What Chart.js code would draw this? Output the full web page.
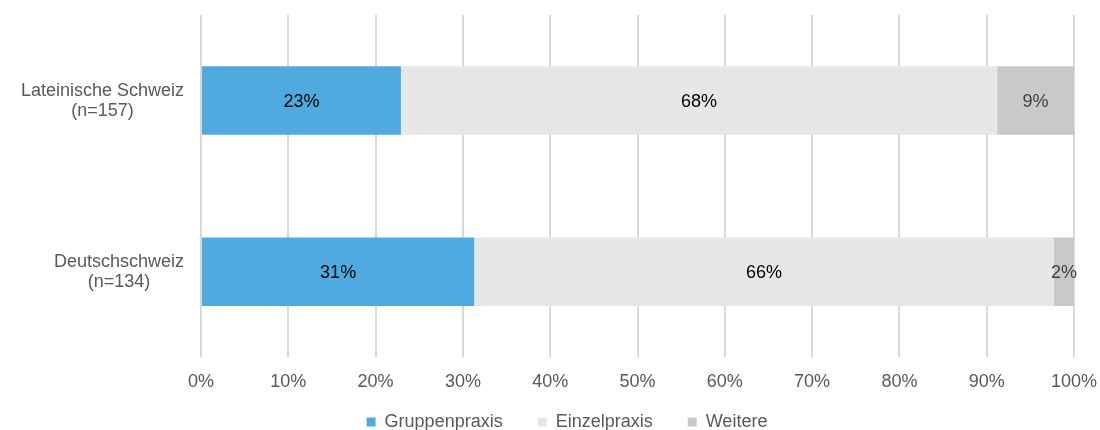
<!DOCTYPE html>
<html>
<head>
<meta charset="utf-8">
<script src="https://cdn.jsdelivr.net/npm/chart.js@4"></script>
<style>
    body { margin: 0; background: #fff; overflow: hidden; }
    .wrap { width: 1100px; height: 470px; }
</style>
</head>
<body>
<div class="wrap"><canvas id="praxis_chart"></canvas></div>
<script>
const regions = [["Lateinische Schweiz", "(n=157)"], ["Deutschschweiz", "(n=134)"]];
const gruppenpraxis = [22.9, 31.3];
const einzelpraxis = [68.3, 66.4];
const weitere = [8.8, 2.3];
const seriesNames = ["Gruppenpraxis", "Einzelpraxis", "Weitere"];

const FONT = "'Liberation Sans', Arial, sans-serif";
const ctx = document.querySelector("#praxis_chart").getContext("2d");

// draw percent labels in bar centers
const barLabels = {
    id: "barLabels",
    afterDatasetsDraw(chart) {
        const c = chart.ctx;
        c.save();
        c.font = "18px " + FONT;
        c.textAlign = "center";
        c.textBaseline = "middle";
        chart.data.datasets.forEach((ds, i) => {
            const meta = chart.getDatasetMeta(i);
            meta.data.forEach((bar, j) => {
                const p = bar.getCenterPoint();
                c.fillStyle = i === 2 ? "#404040" : "#000";
                c.fillText(Math.round(ds.data[j]) + "%", p.x, p.y + 1);
            });
        });
        c.restore();
    }
};

// category labels: block right aligned to the axis, lines centered inside the block
const categoryLabels = {
    id: "categoryLabels",
    afterDraw(chart) {
        const c = chart.ctx;
        const yScale = chart.scales.y;
        const right = chart.chartArea.left - 17;
        c.save();
        c.font = "18px " + FONT;
        c.fillStyle = "#595959";
        c.textAlign = "center";
        c.textBaseline = "middle";
        chart.data.labels.forEach((lines, i) => {
            const w = Math.max(...lines.map((t) => c.measureText(t).width));
            const cx = right - w / 2;
            const cy = yScale.getPixelForValue(i);
            lines.forEach((t, k) => {
                c.fillText(t, cx, cy + (k - (lines.length - 1) / 2) * 20);
            });
        });
        c.restore();
    }
};

// nudge the legend: up and to the right (wide item spacing eats height)
const legendShift = {
    id: "legendShift",
    afterLayout(chart) {
        const lg = chart.legend;
        lg.left += 30;
        lg.right += 30;
        lg.top -= 29;
        lg.bottom -= 29;
    }
};

const chart = new Chart(ctx, {
    type: "bar",
    data: {
        labels: regions,
        datasets: [
            { label: seriesNames[0], data: gruppenpraxis, backgroundColor: "#4EAADF" },
            { label: seriesNames[1], data: einzelpraxis, backgroundColor: "#E7E7E7" },
            { label: seriesNames[2], data: weitere, backgroundColor: "#C9C9C9" },
        ],
    },
    options: {
        indexAxis: "y",
        responsive: true,
        maintainAspectRatio: false,
        animation: false,
        categoryPercentage: 0.4,
        barPercentage: 1,
        layout: { padding: { top: 15, right: 26, bottom: 0, left: 0 } },
        plugins: {
            legend: {
                position: "bottom",
                labels: {
                    boxWidth: 9,
                    boxHeight: 9,
                    padding: 35,
                    color: "#595959",
                    font: { size: 18, family: FONT },
                },
            },
            tooltip: { enabled: false },
        },
        scales: {
            x: {
                stacked: true,
                min: 0,
                max: 100,
                ticks: {
                    stepSize: 10,
                    color: "#595959",
                    padding: 14,
                    font: { size: 18, family: FONT },
                    callback: (v) => v + "%",
                },
                grid: { color: "#D9D9D9", lineWidth: 2, drawTicks: false },
                border: { display: false },
                afterFit: (scale) => {
                    scale.paddingLeft = 0;
                    scale.paddingRight = 0;
                },
            },
            y: {
                stacked: true,
                ticks: { display: false },
                grid: { display: false },
                border: { display: false },
                afterFit: (scale) => {
                    scale.width = 201;
                    scale.paddingTop = 0;
                    scale.paddingBottom = 0;
                },
            },
        },
    },
    plugins: [barLabels, categoryLabels, legendShift],
});
</script>
</body>
</html>
